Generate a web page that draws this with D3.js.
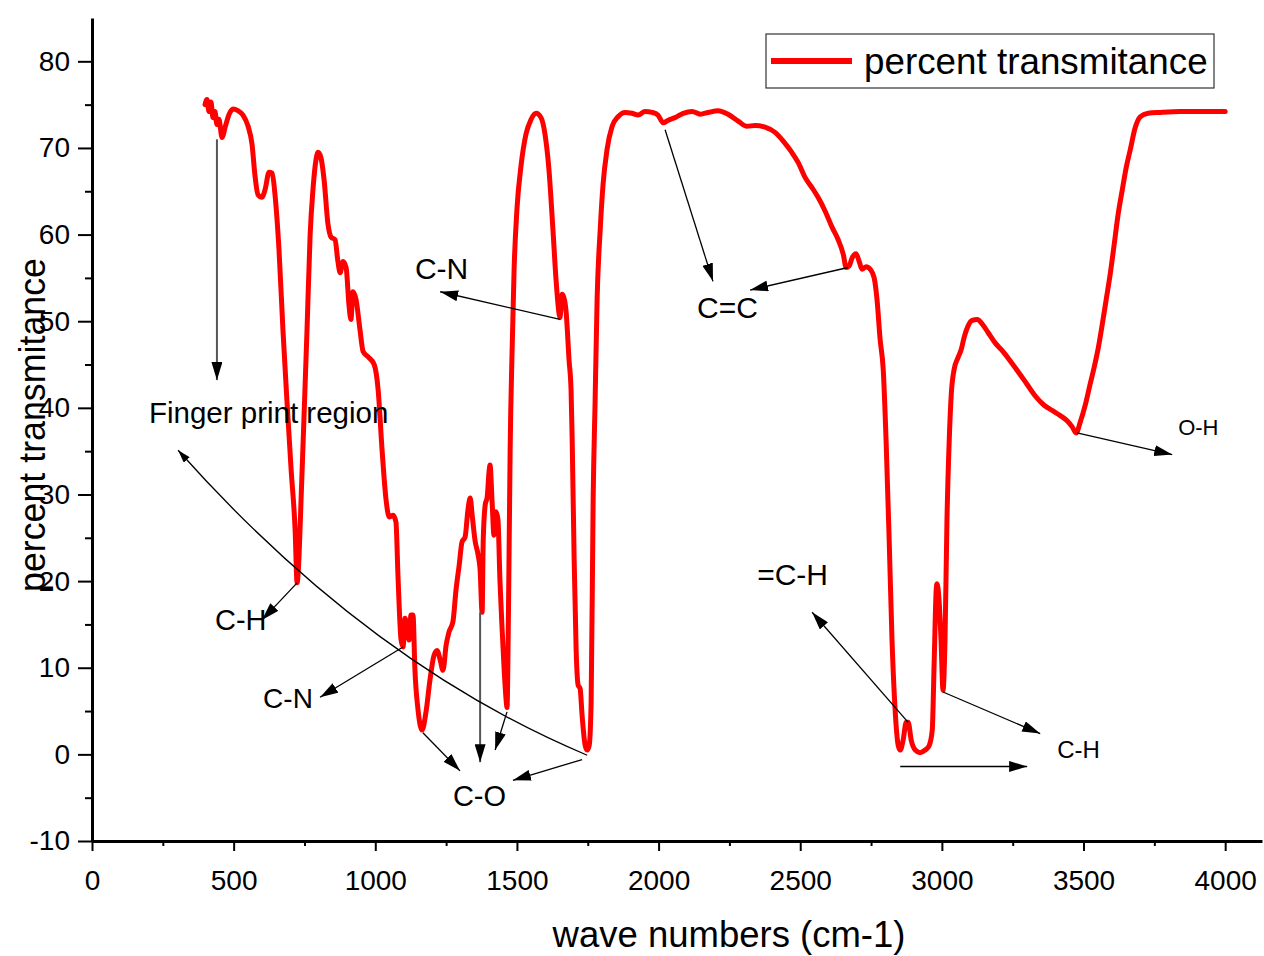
<!DOCTYPE html>
<html>
<head>
<meta charset="utf-8">
<script src="https://cdn.jsdelivr.net/npm/d3@7"></script>
<style>
  body { margin: 0; background: #fff; }
  svg { display: block; font-family: "Liberation Sans", Arial, sans-serif; }
</style>
</head>
<body>
<script>
// FTIR spectrum (wave number in cm-1, percent transmitance)
const waveNumbers = [
  399, 406, 413, 420, 427, 434, 441, 448, 459, 470,
  484, 498, 515, 533, 551, 565, 575, 586, 600, 611,
  625, 636, 646, 660, 674, 688, 703, 717, 724, 731,
  738, 748, 759, 770, 780, 791, 798, 808, 819, 833,
  844, 858, 868, 876, 886, 897, 907, 914, 921, 932,
  946, 957, 974, 996, 1010, 1024, 1038, 1049, 1063, 1073,
  1080, 1091, 1098, 1105, 1112, 1119, 1126, 1133, 1140, 1151,
  1165, 1179, 1193, 1207, 1218, 1229, 1239, 1250, 1260, 1274,
  1285, 1296, 1306, 1317, 1327, 1335, 1342, 1352, 1363, 1370,
  1377, 1381, 1388, 1395, 1402, 1405, 1412, 1419, 1426, 1433,
  1440, 1447, 1455, 1462, 1465, 1469, 1472, 1476, 1483, 1490,
  1500, 1515, 1532, 1550, 1568, 1585, 1599, 1613, 1627, 1638,
  1649, 1652, 1659, 1666, 1673, 1684, 1691, 1695, 1702, 1709,
  1716, 1723, 1730, 1741, 1748, 1755, 1762, 1769, 1776, 1783,
  1794, 1804, 1818, 1836, 1857, 1882, 1906, 1928, 1952, 1977,
  1998, 2016, 2034, 2058, 2087, 2119, 2147, 2175, 2210, 2245,
  2281, 2312, 2341, 2376, 2411, 2440, 2468, 2493, 2517, 2542,
  2563, 2588, 2613, 2634, 2652, 2662, 2673, 2683, 2697, 2708,
  2718, 2733, 2747, 2761, 2771, 2782, 2793, 2803, 2814, 2824,
  2835, 2846, 2853, 2863, 2874, 2881, 2892, 2906, 2923, 2941,
  2955, 2966, 2973, 2980, 2983, 2990, 2997, 3004, 3011, 3018,
  3026, 3033, 3043, 3057, 3068, 3079, 3093, 3107, 3125, 3142,
  3163, 3188, 3216, 3244, 3273, 3301, 3329, 3361, 3389, 3418,
  3442, 3460, 3474, 3488, 3506, 3523, 3537, 3552, 3566, 3580,
  3594, 3608, 3622, 3637, 3651, 3665, 3682, 3700, 3728, 3771,
  3841, 3912, 4000
];
const transmittance = [
  75.0, 75.6, 74.2, 75.3, 73.5, 74.2, 72.7, 73.3, 71.2, 72.4,
  73.9, 74.5, 74.3, 73.8, 72.5, 70.4, 66.9, 64.6, 64.3, 65.2,
  67.2, 67.1, 64.6, 58.3, 49.0, 40.9, 32.8, 25.9, 19.8, 23.0,
  29.4, 38.6, 49.0, 60.0, 65.2, 68.7, 69.5, 68.9, 66.4, 61.2,
  59.7, 59.4, 56.9, 55.6, 56.9, 56.2, 51.9, 50.2, 53.4, 52.5,
  49.0, 46.5, 45.9, 45.0, 42.1, 35.1, 29.4, 27.4, 27.6, 26.8,
  20.7, 13.2, 12.4, 15.7, 14.6, 13.2, 16.1, 16.1, 9.7, 5.1,
  2.8, 4.9, 8.6, 11.4, 12.0, 10.9, 9.7, 12.6, 14.1, 15.3,
  19.0, 21.8, 24.5, 25.1, 28.2, 29.6, 27.6, 24.7, 23.0, 21.3,
  16.4, 24.7, 28.8, 29.7, 32.8, 33.4, 29.4, 25.3, 28.0, 27.1,
  20.1, 14.9, 9.7, 6.2, 5.4, 13.2, 22.4, 35.1, 46.7, 56.0,
  62.9, 68.1, 71.6, 73.3, 74.0, 73.5, 71.6, 67.5, 60.6, 54.8,
  50.8, 50.4, 53.1, 52.7, 51.3, 45.5, 42.1, 36.3, 22.4, 12.0,
  8.0, 7.6, 4.5, 1.0, 0.5, 1.0, 6.2, 29.4, 40.9, 52.5,
  60.6, 65.8, 69.8, 72.5, 73.6, 74.1, 74.0, 73.8, 74.2, 74.1,
  73.8, 72.9, 73.2, 73.5, 74.0, 74.2, 73.9, 74.1, 74.3, 73.9,
  73.1, 72.5, 72.6, 72.4, 71.8, 70.8, 69.6, 68.3, 66.6, 65.4,
  64.3, 62.7, 60.8, 59.4, 57.7, 56.2, 56.4, 57.3, 57.8, 56.9,
  56.0, 56.3, 56.0, 55.0, 52.5, 47.9, 44.4, 36.3, 24.7, 13.2,
  5.1, 1.0, 0.5, 1.6, 3.7, 3.7, 1.6, 0.5, 0.2, 0.5,
  1.0, 2.8, 10.9, 19.0, 19.7, 17.8, 13.2, 7.4, 13.2, 27.1,
  36.3, 41.5, 44.4, 45.8, 46.7, 48.2, 49.5, 50.1, 50.2, 49.7,
  48.7, 47.5, 46.5, 45.3, 44.0, 42.7, 41.4, 40.3, 39.7, 39.1,
  38.5, 37.8, 37.1, 38.3, 40.3, 42.7, 44.6, 46.9, 49.6, 52.5,
  55.4, 58.8, 62.3, 65.2, 67.8, 69.8, 72.3, 73.6, 74.0, 74.1,
  74.2, 74.2, 74.2
];

const xTicks = [0, 500, 1000, 1500, 2000, 2500, 3000, 3500, 4000];
const xMinorTicks = [250, 750, 1250, 1750, 2250, 2750, 3250, 3750];
const yTicks = [-10, 0, 10, 20, 30, 40, 50, 60, 70, 80];
const yMinorTicks = [-5, 5, 15, 25, 35, 45, 55, 65, 75];

const seriesName = "percent transmitance";
const xTitle = "wave numbers (cm-1)";
const yTitle = "percent transmitance";

// peak labels: text, wave number at left edge, transmitance at baseline
const labelTexts = ["Finger print region", "C-H", "C-N", "C-N", "C-O", "C=C", "=C-H", "C-H", "O-H"];
const labelAt = [[201, 38.2], [434, 14.4], [604, 5.3], [1140, 54.9], [1274, -6.0],
                 [2136, 50.4], [2348, 19.6], [3407, -0.4], [3834, 36.9]];

// arrows from a peak to its label: [from wave, from T, to wave, to T]
const arrows = [
  [724, 19.8, 600, 15.5],
  [1098, 12.4, 805, 6.6],
  [1652, 50.2, 1229, 53.4],
  [1168, 2.5, 1299, -1.9],
  [1465, 4.9, 1423, 0.5],
  [1730, -0.6, 1486, -3.0],
  [2023, 72.1, 2192, 54.6],
  [2669, 56.2, 2323, 53.6],
  [2881, 3.7, 2542, 16.4],
  [3004, 7.2, 3347, 2.4],
  [2853, -1.4, 3301, -1.4],
  [3477, 37.1, 3813, 34.6]
];
const greyArrows = [
  [441, 71.0, 441, 43.2],
  [1370, 16.4, 1370, -0.9]
];
// curved arrow of the finger print region: start, control, end
const regionArc = [[304, 35.1], [974, 10.5], [1748, -0.1]];

const width = 1264, height = 956;
const font = "'Liberation Sans', Arial, sans-serif";

const x = d3.scaleLinear().domain([0, 4130]).range([92, 1262]);
const y = d3.scaleLinear().domain([-10, 85]).range([841, 18]);

const svg = d3.select("body").append("svg")
  .attr("width", width)
  .attr("height", height);

const defs = svg.append("defs");
defs.append("marker")
  .attr("id", "head")
  .attr("viewBox", "0 0 10 10")
  .attr("refX", 10).attr("refY", 5)
  .attr("markerWidth", 18).attr("markerHeight", 11)
  .attr("markerUnits", "userSpaceOnUse")
  .attr("preserveAspectRatio", "none")
  .attr("orient", "auto")
  .append("path").attr("d", "M0,0L10,5L0,10z").attr("fill", "#000");
defs.append("marker")
  .attr("id", "smallhead")
  .attr("viewBox", "0 0 10 10")
  .attr("refX", 10).attr("refY", 5)
  .attr("markerWidth", 13).attr("markerHeight", 8)
  .attr("markerUnits", "userSpaceOnUse")
  .attr("preserveAspectRatio", "none")
  .attr("orient", "auto-start-reverse")
  .append("path").attr("d", "M0,0L10,5L0,10z").attr("fill", "#000");

// axes (plain hyphen minus and no thousands separator, like the original)
const plain = d => String(d);

svg.append("g")
  .attr("transform", `translate(0,${y(-10)})`)
  .call(d3.axisBottom(x).tickValues(xTicks).tickFormat(plain)
    .tickSize(10).tickPadding(19).tickSizeOuter(0));
svg.append("g")
  .attr("transform", `translate(0,${y(-10)})`)
  .call(d3.axisBottom(x).tickValues(xMinorTicks).tickSize(5).tickFormat("").tickSizeOuter(0))
  .select(".domain").remove();

svg.append("g")
  .attr("transform", `translate(${x(0)},0)`)
  .call(d3.axisLeft(y).tickValues(yTicks).tickFormat(plain)
    .tickSize(14).tickPadding(8).tickSizeOuter(0));
svg.append("g")
  .attr("transform", `translate(${x(0)},0)`)
  .call(d3.axisLeft(y).tickValues(yMinorTicks).tickSize(7).tickFormat("").tickSizeOuter(0))
  .select(".domain").remove();

svg.selectAll(".domain").attr("stroke", "#000").attr("stroke-width", 3);
svg.selectAll(".tick line").attr("stroke", "#000").attr("stroke-width", 2);
svg.selectAll(".tick text")
  .attr("font-family", font)
  .attr("font-size", 28)
  .attr("fill", "#000");

// spectrum
const points = waveNumbers.map((w, i) => ({ w, t: transmittance[i] }));
const line = d3.line()
  .x(d => x(d.w))
  .y(d => y(d.t))
  .curve(d3.curveMonotoneX);

svg.append("path")
  .datum(points)
  .attr("d", line)
  .attr("fill", "none")
  .attr("stroke", "#ff0000")
  .attr("stroke-width", 5)
  .attr("stroke-linejoin", "round")
  .attr("stroke-linecap", "round");

// annotations
const ann = svg.append("g");

ann.selectAll("line.grey")
  .data(greyArrows)
  .enter().append("line")
  .attr("class", "grey")
  .attr("x1", d => x(d[0])).attr("y1", d => y(d[1]))
  .attr("x2", d => x(d[2])).attr("y2", d => y(d[3]))
  .attr("stroke", "#555")
  .attr("stroke-width", 2)
  .attr("marker-end", "url(#head)");

ann.selectAll("line.black")
  .data(arrows)
  .enter().append("line")
  .attr("class", "black")
  .attr("x1", d => x(d[0])).attr("y1", d => y(d[1]))
  .attr("x2", d => x(d[2])).attr("y2", d => y(d[3]))
  .attr("stroke", "#000")
  .attr("stroke-width", 1.3)
  .attr("marker-end", "url(#head)");

const [a0, a1, a2] = regionArc;
ann.append("path")
  .attr("d", `M${x(a0[0])},${y(a0[1])}Q${x(a1[0])},${y(a1[1])} ${x(a2[0])},${y(a2[1])}`)
  .attr("fill", "none")
  .attr("stroke", "#000")
  .attr("stroke-width", 1.3)
  .attr("marker-start", "url(#smallhead)");

const labelSizes = [29.5, 29, 28, 30, 29, 30, 30, 24, 22];
ann.selectAll("text")
  .data(labelTexts)
  .enter().append("text")
  .attr("x", (d, i) => x(labelAt[i][0]))
  .attr("y", (d, i) => y(labelAt[i][1]))
  .attr("font-family", font)
  .attr("font-size", (d, i) => labelSizes[i])
  .attr("fill", "#000")
  .text(d => d);

// axis titles
svg.append("text")
  .attr("x", 729).attr("y", 947)
  .attr("text-anchor", "middle")
  .attr("font-family", font)
  .attr("font-size", 36.5)
  .text(xTitle);

svg.append("text")
  .attr("transform", "translate(45,425) rotate(-90)")
  .attr("text-anchor", "middle")
  .attr("font-family", font)
  .attr("font-size", 36)
  .attr("textLength", 334)
  .attr("lengthAdjust", "spacingAndGlyphs")
  .text(yTitle);

// legend
const legend = svg.append("g");
legend.append("rect")
  .attr("x", 766).attr("y", 34)
  .attr("width", 448).attr("height", 54)
  .attr("fill", "#fff")
  .attr("stroke", "#333")
  .attr("stroke-width", 1.2);
legend.append("line")
  .attr("x1", 771).attr("x2", 852)
  .attr("y1", 61).attr("y2", 61)
  .attr("stroke", "#ff0000")
  .attr("stroke-width", 6);
legend.append("text")
  .attr("x", 864).attr("y", 74)
  .attr("font-family", font)
  .attr("font-size", 36.8)
  .attr("fill", "#000")
  .text(seriesName);
</script>
</body>
</html>
